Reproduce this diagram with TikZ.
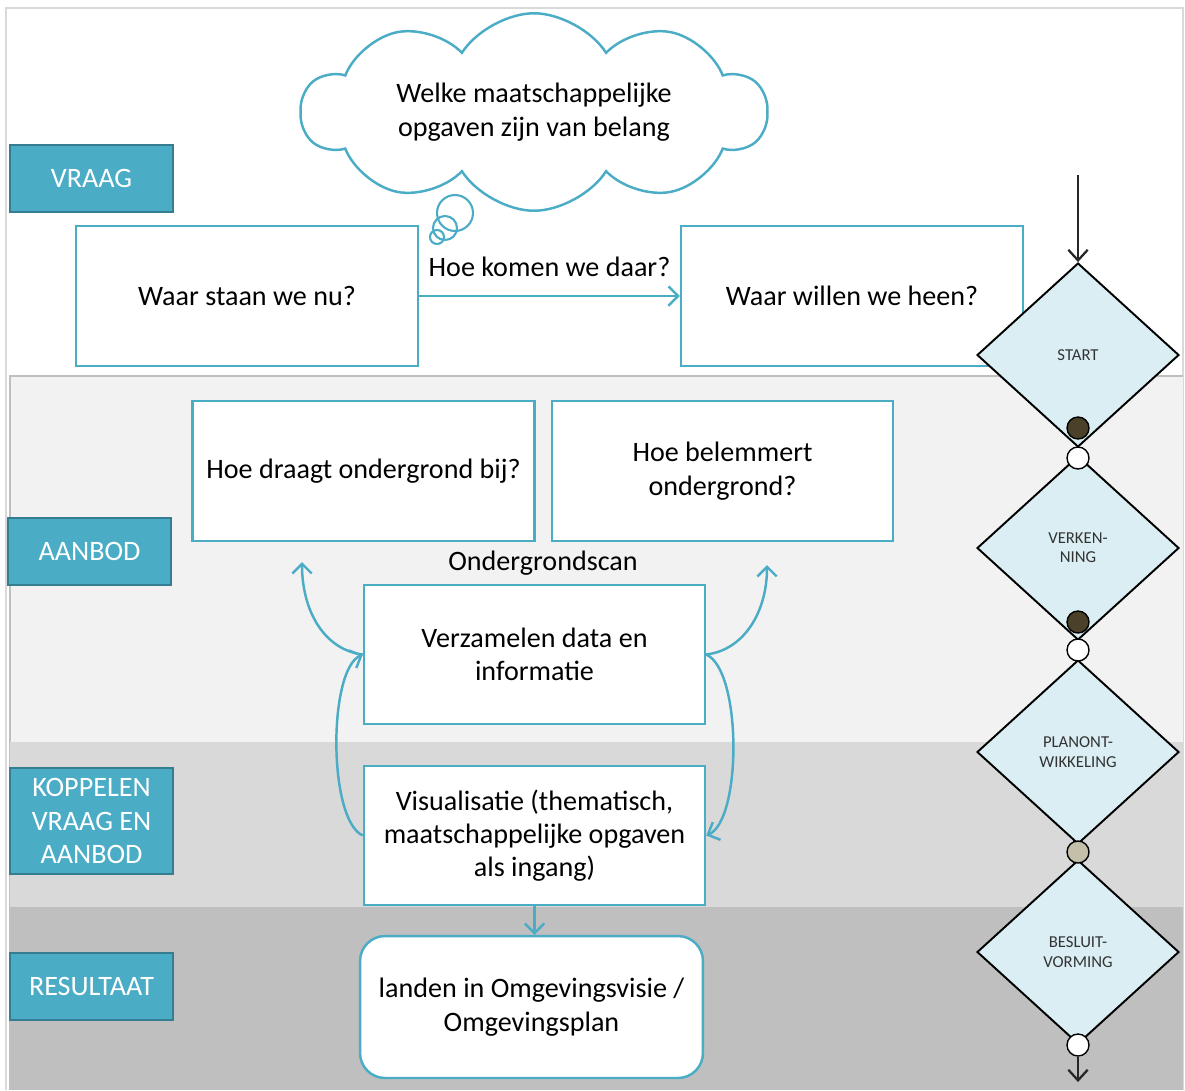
\documentclass[tikz,border=0pt]{standalone}
\usepackage{fontspec}
\setmainfont{Carlito}
\usetikzlibrary{
    positioning,shapes.geometric,shapes.symbols,arrows.meta
}
\definecolor{scanblue}{HTML}{4BACC6}
\definecolor{kopborder}{HTML}{357D91}
\definecolor{faseblue}{HTML}{DAEEF3}
\definecolor{bandlicht}{HTML}{F2F2F2}
\definecolor{bandmidden}{HTML}{D9D9D9}
\definecolor{banddonker}{HTML}{BFBFBF}
\definecolor{knopdonker}{HTML}{4A4128}
\definecolor{knopbeige}{HTML}{C4BFA8}

\begin{document}
\begin{tikzpicture}[x=0.02cm, y=-0.02cm,
    every node/.style={font=\fontsize{16}{19}\selectfont},
    vak/.style={draw=scanblue, line width=1.4pt, fill=white, minimum width=6.84cm,
        minimum height=2.8cm, align=center, inner sep=2pt},
    kop/.style={draw=kopborder, fill=scanblue, text=white, line width=1pt,
        minimum width=3.26cm, minimum height=1.34cm, align=center},
    fase/.style={diamond, draw=black, line width=1.1pt, fill=faseblue, minimum width=4.04cm,
        minimum height=3.68cm, inner sep=0pt, align=center, text=black!80,
        font=\fontsize{9.5}{11}\selectfont},
    knop/.style={circle, draw=black, line width=0.8pt, minimum size=0.44cm, inner sep=0pt},
    pijl/.style={draw=scanblue, line width=1.4pt, -{Straight Barb[length=5.5pt,width=11pt]}},
    zwartpijl/.style={draw=black!85, line width=1.3pt, -{Straight Barb[length=6pt,width=11pt]}}
]
    \useasboundingbox (0,0) rectangle (1185,1090);
    % achtergrond
    \draw[black!15, line width=0.8pt] (6,1090) -- (6,8) -- (1183,8) -- (1183,1090);
    \fill[bandlicht] (10,376) rectangle (1183,742);
    \draw[black!25, line width=0.6pt] (10,1090) -- (10,376) -- (1183,376);
    \fill[bandmidden] (10,742) rectangle (1183,907);
    \fill[banddonker] (10,907) rectangle (1183,1090);

    % koppen links
    \node[kop] (vraag) at (91.5,178.5) {VRAAG};
    \node[kop] (aanbod) at (89.5,551.5) {AANBOD};
    \node[kop, minimum height=2.12cm] (koppelen) at (91.5,821) {KOPPELEN\\VRAAG EN\\AANBOD};
    \node[kop] (resultaat) at (91.5,986.5) {RESULTAAT};

    % wolk
    \node[cloud, cloud puffs=10, cloud puff arc=115, cloud ignores aspect, draw=scanblue,
        fill=white, line width=1.4pt, minimum width=9.3cm, minimum height=3.95cm,
        inner sep=0pt, align=center] (wolk) at (534,112)
        {Welke maatschappelijke\\opgaven zijn van belang};
    \draw[scanblue, line width=1.2pt] (455,213) circle (18);
    \draw[scanblue, line width=1.2pt] (445,228) circle (12);
    \draw[scanblue, line width=1.2pt] (437,237) circle (7);

    % vraag
    \node[vak] (staan) at (247,296) {Waar staan we nu?};
    \node[vak] (willen) at (852,296) {Waar willen we heen?};
    \draw[pijl] (staan) -- node[above=7pt, text=black] {Hoe komen we daar?} (willen);

    % aanbod
    \node[vak] (draagt) at (363.5,471) {Hoe draagt ondergrond bij?};
    \node[vak, minimum width=6.82cm] (belemmert) at (722.5,471) {Hoe belemmert\\ondergrond?};
    \node (scan) at (543,563) {Ondergrondscan};
    \node[vak, minimum width=6.82cm, minimum height=2.78cm] (verzamelen) at (534.5,654.5)
        {Verzamelen data en\\informatie};
    \node[vak, minimum width=6.82cm, minimum height=2.78cm] (visualisatie) at (534.5,835.5)
        {Visualisatie (thematisch,\\maatschappelijke opgaven\\als ingang)};
    \node[vak, rounded corners=0.5cm, minimum width=6.86cm, minimum height=2.84cm] (landen)
        at (531.5,1007) {landen in Omgevingsvisie /\\Omgevingsplan};

    \coordinate (links) at (302,562);
    \coordinate (rechts) at (767,565);
    \draw[pijl] (verzamelen.west) .. controls (325,650) and (302,612) .. (links);
    \draw[pijl] (verzamelen.east) .. controls (744,650) and (767,612) .. (rechts);
    \draw[pijl] (visualisatie.west) .. controls (328,820) and (328,670) .. (verzamelen.west);
    \draw[pijl] (verzamelen.east) .. controls (742,670) and (742,820) .. (visualisatie.east);
    \draw[pijl] (visualisatie.south) -- (visualisatie.south |- landen.north);

    % fasen rechts
    \node[fase] (start) at (1078,355) {START};
    \node[fase] (verkenning) at (1078,548) {VERKEN-\\NING};
    \node[fase] (planont) at (1078,752) {PLANONT-\\WIKKELING};
    \node[fase] (besluit) at (1078,952) {BESLUIT-\\VORMING};

    \node[knop, fill=knopdonker] (k1) at (1078,428) {};
    \node[knop, fill=white] (k2) at (1078,458) {};
    \node[knop, fill=knopdonker] (k3) at (1078,622) {};
    \node[knop, fill=white] (k4) at (1078,650) {};
    \node[knop, fill=knopbeige] (k5) at (1078,852) {};
    \node[knop, fill=white] (k6) at (1078,1045) {};

    \coordinate (instap) at (1078,175);
    \coordinate (uitgang) at (1078,1082);
    \draw[zwartpijl] (instap) -- (start.north);
    \draw[zwartpijl] (k6) -- (uitgang);
\end{tikzpicture}
\end{document}
